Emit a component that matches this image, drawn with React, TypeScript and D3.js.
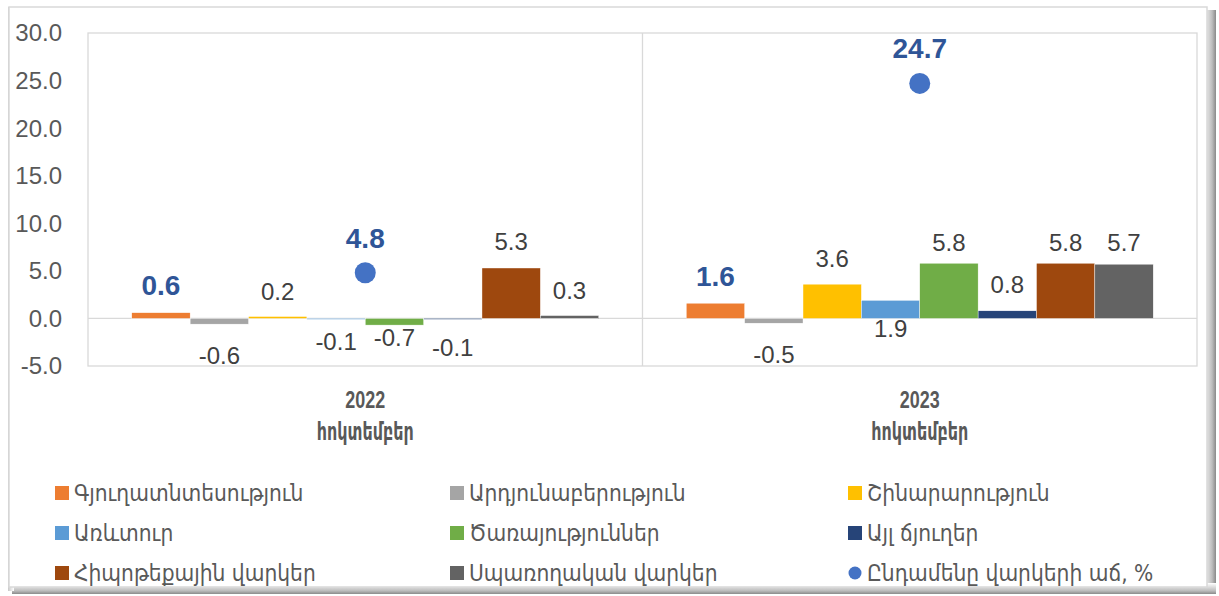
import React from "react";
import * as d3 from "d3";

const categories = ["2022", "2023"];
const categorySub = "հոկտեմբեր";
const seriesNames = [
  "Գյուղատնտեսություն",
  "Արդյունաբերություն",
  "Շինարարություն",
  "Առևտուր",
  "Ծառայություններ",
  "Այլ ճյուղեր",
  "Հիպոթեքային վարկեր",
  "Սպառողական վարկեր",
];
const agriculture = [0.6, 1.6];
const industry = [-0.6, -0.5];
const construction = [0.2, 3.6];
const trade = [-0.1, 1.9];
const services = [-0.7, 5.8];
const otherBranches = [-0.1, 0.8];
const mortgage = [5.3, 5.8];
const consumer = [0.3, 5.7];
const totalName = "Ընդամենը վարկերի աճ, %";
const totalGrowth = [4.8, 24.7];
const yTicks = [-5, 0, 5, 10, 15, 20, 25, 30];

const seriesValues = [agriculture, industry, construction, trade, services, otherBranches, mortgage, consumer];
const colors = ["#ED7D31", "#A5A5A5", "#FFC000", "#5B9BD5", "#70AD47", "#264478", "#9E480E", "#636363"];
const dotColor = "#4472C4";
const boldLabelColor = "#2F5597";

// label placement nudges (pixels from bar end), [series][category]
const labelDy = [
  [-28, -27],
  [31, 31],
  [-25, -26],
  [22, 28],
  [13, -21],
  [28, -26],
  [-26, -21],
  [-25, -22],
];

const W = 1219;
const H = 596;
const plot = { left: 88, right: 1197, top: 33, bottom: 366 };
const FONT = "'Liberation Sans', Arial, 'DejaVu Sans', sans-serif";
const ARM = "'DejaVu Sans Condensed', 'DejaVu Sans', sans-serif";

const fmt1 = d3.format(".1f");
const fmt = (v: number) => fmt1(v).replace("\u2212", "-");

export default function App() {
  const x0 = d3.scaleBand<string>().domain(categories).range([plot.left, plot.right]).paddingInner(0).paddingOuter(0);
  const x1 = d3
    .scaleBand<string>()
    .domain(seriesNames)
    .range([0, x0.bandwidth()])
    .paddingInner(0)
    .paddingOuter(0.75);
  const y = d3.scaleLinear().domain([-5, 30]).range([plot.bottom, plot.top]);

  const legendCols = [55, 450, 848];
  const legendRows = [493, 533, 573];
  const legendItems = [...seriesNames.map((n, i) => ({ name: n, color: colors[i], dot: false })), { name: totalName, color: dotColor, dot: true }];

  return (
    <svg width={W} height={H} style={{ position: "absolute", left: 0, top: 0, background: "#fff" }}>
      <defs>
        <linearGradient id="shR" x1="0" x2="1" y1="0" y2="0">
          <stop offset="0" stopColor="#fff" />
          <stop offset="0.7" stopColor="#bdbdbd" />
          <stop offset="1" stopColor="#8a8a8a" />
        </linearGradient>
        <linearGradient id="shB" x1="0" x2="0" y1="0" y2="1">
          <stop offset="0" stopColor="#fff" />
          <stop offset="0.7" stopColor="#bdbdbd" />
          <stop offset="1" stopColor="#8a8a8a" />
        </linearGradient>
        <linearGradient id="shL" x1="0" x2="1" y1="0" y2="0">
          <stop offset="0" stopColor="#c8c8c8" />
          <stop offset="1" stopColor="#fff" />
        </linearGradient>
      </defs>
      {/* outer frame */}
      <rect x={1203} y={10} width={13} height={584} fill="url(#shR)" />
      <rect x={12} y={583} width={1204} height={11} fill="url(#shB)" />
      <rect x={8} y={7} width={6} height={584} fill="url(#shL)" />
      <rect x={9} y={7} width={1198} height={580} fill="#fff" stroke="#d9d9d9" strokeWidth={1.5} />

      {/* plot area */}
      <rect x={plot.left} y={plot.top} width={plot.right - plot.left} height={plot.bottom - plot.top} fill="none" stroke="#d9d9d9" strokeWidth={1.3} />
      <line x1={x0("2023")} x2={x0("2023")} y1={plot.top} y2={plot.bottom} stroke="#d9d9d9" strokeWidth={1.3} />
      <line x1={plot.left} x2={plot.right} y1={y(0)} y2={y(0)} stroke="#d9d9d9" strokeWidth={1.3} />

      {/* y ticks */}
      {yTicks.map((t) => (
        <text key={t} x={62} y={y(t)} dy="0.35em" textAnchor="end" fontFamily={FONT} fontSize={24} fill="#595959">
          {fmt(t)}
        </text>
      ))}

      {/* bars */}
      {seriesNames.map((s, si) =>
        categories.map((c, ci) => {
          const v = seriesValues[si][ci];
          const bx = (x0(c) as number) + (x1(s) as number);
          const y0 = y(0);
          const yv = y(v);
          return (
            <rect key={s + c} x={bx} y={Math.min(y0, yv)} width={x1.bandwidth()} height={Math.max(0.8, Math.abs(yv - y0))} fill={colors[si]} stroke="#fff" strokeWidth={0.4} />
          );
        })
      )}

      {/* bar labels */}
      {seriesNames.map((s, si) =>
        categories.map((c, ci) => {
          const v = seriesValues[si][ci];
          const cx = (x0(c) as number) + (x1(s) as number) + x1.bandwidth() / 2;
          const ly = y(v) + labelDy[si][ci];
          const bold = si === 0;
          return (
            <text
              key={"l" + s + c}
              x={cx}
              y={ly}
              dy="0.35em"
              textAnchor="middle"
              fontFamily={FONT}
              fontSize={bold ? 28 : 24}
              fontWeight={bold ? "bold" : "normal"}
              fill={bold ? boldLabelColor : "#404040"}
            >
              {fmt(v)}
            </text>
          );
        })
      )}

      {/* total growth points */}
      {categories.map((c, ci) => {
        const cx = (x0(c) as number) + x0.bandwidth() / 2;
        return (
          <g key={"p" + c}>
            <circle cx={cx} cy={y(totalGrowth[ci])} r={10.5} fill={dotColor} />
            <text x={cx} y={y(totalGrowth[ci]) - 35} dy="0.35em" textAnchor="middle" fontFamily={FONT} fontSize={28} fontWeight="bold" fill={boldLabelColor}>
              {fmt(totalGrowth[ci])}
            </text>
          </g>
        );
      })}

      {/* category labels */}
      {categories.map((c) => {
        const cx = (x0(c) as number) + x0.bandwidth() / 2;
        return (
          <g key={"c" + c} fill="#595959" fontWeight="bold" textAnchor="middle">
            <text transform={`translate(${cx},400) scale(0.78,1)`} dy="0.35em" fontFamily={FONT} fontSize={23}>
              {c}
            </text>
            <text transform={`translate(${cx},432) scale(0.74,1)`} dy="0.35em" fontFamily={ARM} fontSize={24}>
              {categorySub}
            </text>
          </g>
        );
      })}

      {/* legend */}
      {legendItems.map((it, i) => {
        const lx = legendCols[i % 3];
        const ly = legendRows[Math.floor(i / 3)];
        return (
          <g key={"lg" + i}>
            {it.dot ? (
              <circle cx={lx + 7} cy={ly} r={6.5} fill={it.color} />
            ) : (
              <rect x={lx} y={ly - 7} width={14} height={14} fill={it.color} />
            )}
            <text x={lx + 19} y={ly} dy="0.35em" fontFamily={ARM} fontSize={22.5} fill="#595959">
              {it.name}
            </text>
          </g>
        );
      })}
    </svg>
  );
}
